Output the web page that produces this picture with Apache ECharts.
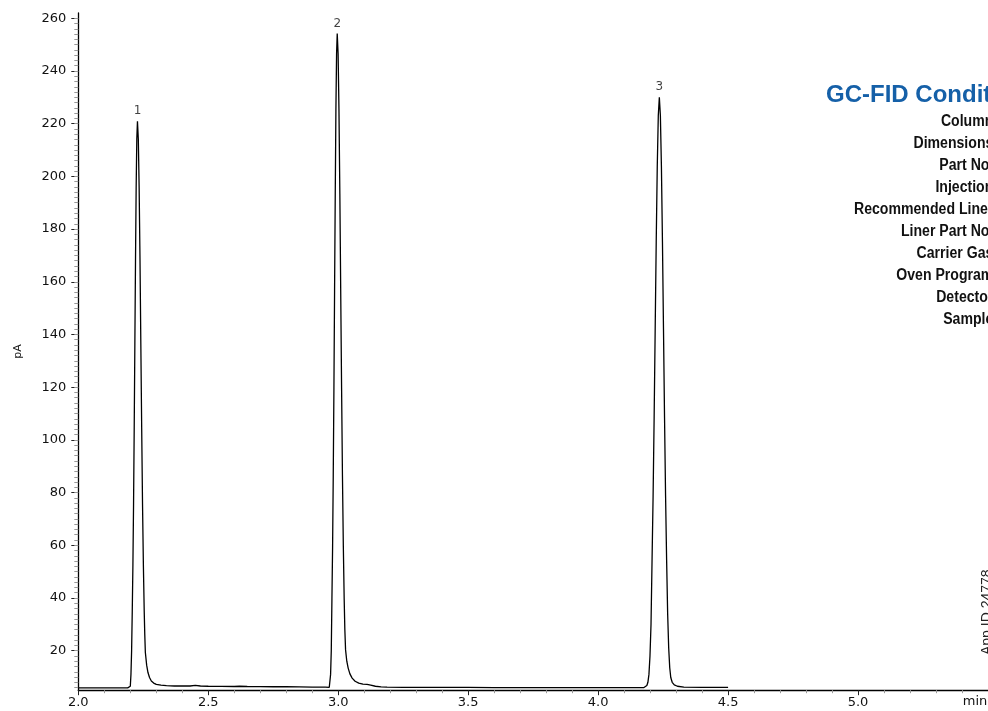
<!DOCTYPE html>
<html><head><meta charset="utf-8">
<script src="https://cdn.jsdelivr.net/npm/echarts@6/dist/echarts.min.js"></script>
<style>html,body{margin:0;padding:0;background:#fff}#c{width:988px;height:711px}</style>
</head><body><div id="c"></div>
<script>
// ---- data ----
const retentionTime = [
  2.0, 2.05, 2.1, 2.15, 2.19, 2.1976,
  2.2001, 2.2026, 2.2051, 2.2076, 2.2101, 2.2126, 2.2151, 2.2176, 2.2201, 2.2226, 2.2251, 2.2276,
  2.2309, 2.2341, 2.2374, 2.2406, 2.2439, 2.2471, 2.2504, 2.2536, 2.2558, 2.258, 2.263, 2.268, 2.274, 2.281, 2.29, 2.3, 2.318, 2.339,
  2.37, 2.4, 2.43, 2.45, 2.47, 2.5, 2.55, 2.6, 2.62, 2.65, 2.7, 2.75, 2.8, 2.85, 2.9, 2.95, 2.9656,
  2.9682, 2.9707, 2.9733, 2.9758, 2.9784, 2.9809, 2.9835, 2.986, 2.9886, 2.9911, 2.9937, 2.9962,
  2.9996, 3.0029, 3.0063, 3.0096, 3.013, 3.0163, 3.0197, 3.023, 3.0255, 3.0283, 3.033, 3.0383, 3.045, 3.0536, 3.065, 3.079, 3.095, 3.111, 3.125, 3.143, 3.165, 3.188,
  3.25, 3.3, 3.4, 3.5, 3.6, 3.7, 3.8, 3.9, 4.0, 4.1, 4.15, 4.175,
  4.1795, 4.1875, 4.1915, 4.1955, 4.1995, 4.2035, 4.2075, 4.2115, 4.2155, 4.2195, 4.2235, 4.2275, 4.2315, 4.2355,
  4.2395, 4.2435, 4.2475, 4.2515, 4.2555, 4.2595, 4.2635, 4.2675, 4.2715, 4.2755, 4.2795, 4.285, 4.293, 4.305, 4.33, 4.4, 4.45, 4.5
];
const signalPA = [
  5.9, 5.9, 5.9, 5.9, 5.9, 5.9,
  6.5, 11, 20, 35, 52.4, 75.7, 104.3, 136.3, 168.2, 195.6, 214.2, 220.9,
  214.2, 195.6, 168.2, 136.3, 104.3, 75.7, 52.4, 35.0, 26, 19.3, 14.5, 11.7, 9.8, 8.5, 7.7, 7.2, 6.9, 6.7,
  6.6, 6.6, 6.6, 6.8, 6.6, 6.5, 6.45, 6.4, 6.5, 6.4, 6.35, 6.3, 6.3, 6.25, 6.2, 6.15, 6.1,
  6.5, 11, 20, 39.4, 59.5, 86.5, 119.5, 156.5, 193.3, 225, 246.5, 254.2,
  246.5, 225, 193.3, 156.5, 119.5, 86.5, 59.5, 39.4, 28, 20.3, 16, 13.4, 11.2, 9.6, 8.4, 7.7, 7.3, 7.2, 6.9, 6.5, 6.3, 6.2,
  6.1, 6.1, 6.05, 6.05, 6.0, 6.0, 6.0, 5.95, 5.95, 5.95, 5.95, 5.95,
  6.1, 6.8, 8, 11, 18, 30, 54.5, 78.7, 108.5, 141.9, 175.1, 203.7, 223.1, 230,
  223.1, 203.7, 175.1, 141.9, 108.5, 78.7, 54.5, 34, 21, 13.5, 9.8, 8, 7, 6.5, 6.2, 6.1, 6.1, 6.1
];
const peakNames = ['1', '2', '3'];
const peakTimes = [2.2276, 2.9962, 4.2355];
const peakHeights = [220.9, 254.2, 230.0];
const xTickLabels = [2.0, 2.5, 3.0, 3.5, 4.0, 4.5, 5.0];
const yTickLabels = [20, 40, 60, 80, 100, 120, 140, 160, 180, 200, 220, 240, 260];
const yMinorStep = 2;
const conditionTitle = 'GC-FID Conditions';
const conditionLabels = ['Column:', 'Dimensions:', 'Part No.:', 'Injection:', 'Recommended Liner:',
  'Liner Part No.:', 'Carrier Gas:', 'Oven Program:', 'Detector:', 'Sample:'];
const appIdText = 'App ID 24778';
const xUnit = 'min';
const yUnit = 'pA';

// ---- chart ----
const yMin = 5, yMax = 262;
const yMinorTicks = [];
for (let v = 6; v <= 260; v += yMinorStep) yMinorTicks.push(v);

const lineData = retentionTime.map((t, i) => [t, signalPA[i]]);
const labelData = peakTimes.map((t, i) => ({ name: peakNames[i], value: [t, peakHeights[i]] }));

const axisFont = 'DejaVu Sans';
const graphics = [];
graphics.push({
  type: 'text', x: 826, y: 95,
  style: { text: conditionTitle, font: 'bold 24px "Liberation Sans", Arial, sans-serif', fill: '#1560a8',
           textAlign: 'left', align: 'left', textVerticalAlign: 'middle', verticalAlign: 'middle' }
});
conditionLabels.forEach((s, i) => {
  graphics.push({
    type: 'text', x: 998, y: 122 + i * 21.9, scaleX: 0.88,
    style: { text: s, font: 'bold 16px "Liberation Sans", Arial, sans-serif', fill: '#111',
             textAlign: 'right', align: 'right', textVerticalAlign: 'middle', verticalAlign: 'middle' }
  });
});
graphics.push({
  type: 'text', x: 980, y: 655, rotation: Math.PI / 2,
  style: { text: appIdText, font: '14px "Liberation Sans", Arial, sans-serif', fill: '#222',
           textAlign: 'left', align: 'left', textVerticalAlign: 'top', verticalAlign: 'top' }
});
graphics.push({
  type: 'text', x: 975, y: 702,
  style: { text: xUnit, font: '13px "' + axisFont + '"', fill: '#111',
           textAlign: 'center', align: 'center', textVerticalAlign: 'middle', verticalAlign: 'middle' }
});

const chart = echarts.init(document.getElementById('c'), null, { renderer: 'canvas' });
chart.setOption({
  animation: false,
  backgroundColor: '#fff',
  grid: { left: 78.3, top: 13, width: 913.5, height: 677.2, containLabel: false },
  xAxis: {
    type: 'value', min: 2, max: 5.5, interval: 0.5,
    axisLine: { onZero: false, lineStyle: { color: '#000', width: 1.3 } },
    axisTick: { length: 5, lineStyle: { color: '#222', width: 1 } },
    minorTick: { show: true, splitNumber: 5, length: 3, lineStyle: { color: '#999', width: 1 } },
    splitLine: { show: false },
    axisLabel: { customValues: xTickLabels, formatter: v => v.toFixed(1), margin: 6,
                 color: '#111', fontSize: 13, fontFamily: axisFont }
  },
  yAxis: [{
    type: 'value', min: yMin, max: yMax, position: 'left',
    name: yUnit, nameLocation: 'middle', nameGap: 55,
    nameTextStyle: { color: '#111', fontSize: 11, fontFamily: axisFont },
    axisLine: { show: true, onZero: false, lineStyle: { color: '#000', width: 1.3 } },
    axisTick: { show: true, customValues: yTickLabels, length: 7, lineStyle: { color: '#222', width: 1 } },
    splitLine: { show: false },
    axisLabel: { customValues: yTickLabels, margin: 12, color: '#111', fontSize: 13, fontFamily: axisFont }
  }, {
    type: 'value', min: yMin, max: yMax, position: 'left', offset: 0,
    axisLine: { show: false },
    axisTick: { show: true, customValues: yMinorTicks, length: 4, lineStyle: { color: '#999', width: 1 } },
    axisLabel: { show: false },
    splitLine: { show: false }
  }],
  series: [{
    type: 'line', data: lineData, yAxisIndex: 0, showSymbol: false, symbol: 'none',
    lineStyle: { color: '#000', width: 1.3 }, silent: true
  }, {
    type: 'scatter', data: labelData, yAxisIndex: 0, symbolSize: 0, silent: true,
    label: { show: true, position: 'top', distance: 4, formatter: '{b}', color: '#111', fontSize: 12, fontFamily: axisFont }
  }],
  graphic: graphics
});
</script></body></html>
